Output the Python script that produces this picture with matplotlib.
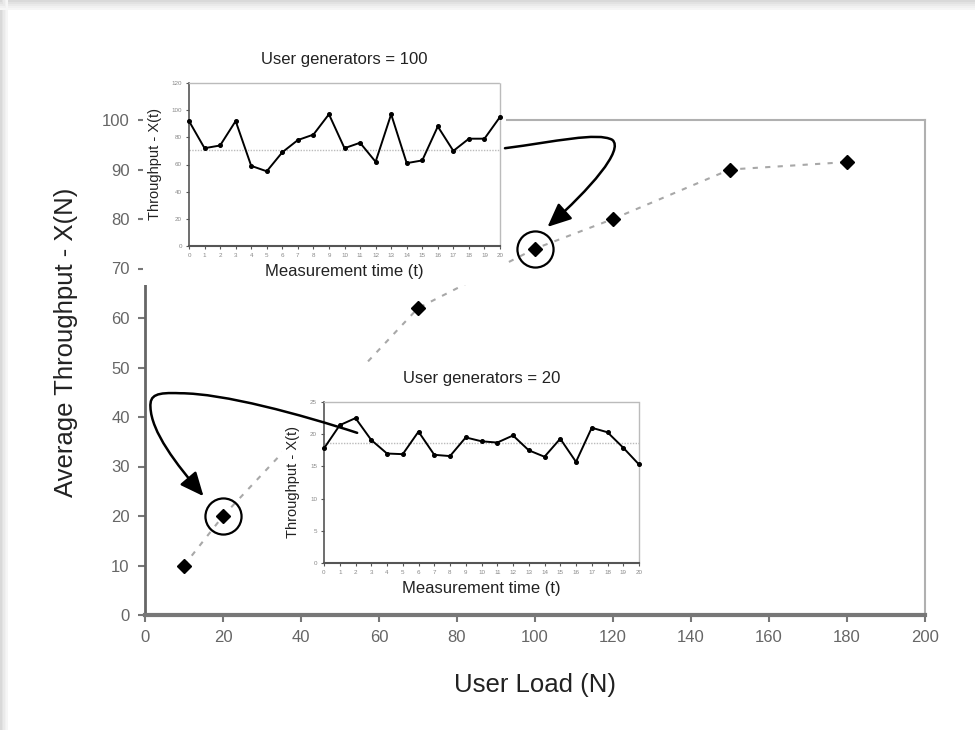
import matplotlib
matplotlib.use("Agg")
import matplotlib.pyplot as plt
from matplotlib.patches import Rectangle, FancyArrowPatch
from matplotlib.path import Path
import numpy as np

plt.rcParams['font.family'] = ['Liberation Sans', 'DejaVu Sans']

# ---- data ----
user_load = [10, 20, 70, 100, 120, 150, 180]
avg_throughput = [10, 20, 62, 74, 80, 90, 91.5]
highlight_loads = [20, 100]

meas_time = list(range(21))
thr_100 = [92, 72, 74, 92, 59, 55, 69, 78, 82, 97, 72, 76, 62, 97, 61, 63, 88, 70, 79, 79, 95]
ref_100 = 71
thr_20 = [17.8, 21.4, 22.5, 19.1, 17.0, 16.9, 20.4, 16.8, 16.6, 19.5, 18.9, 18.7, 19.8,
          17.5, 16.5, 19.3, 15.7, 21.0, 20.3, 17.9, 15.3]
ref_20 = 18.6

main_xticks = list(range(0, 201, 20))
main_yticks = list(range(0, 101, 10))
inset100_yticks = list(range(0, 121, 20))
inset20_yticks = list(range(0, 26, 5))

W, H = 975, 730
fig = plt.figure(figsize=(W / 100, H / 100), dpi=100)
fig.patch.set_facecolor('white')

def fx(px):
    return px / W

def fy(py):
    return 1 - py / H

# outer frame shading
for i, c in enumerate(['#d9d9d9', '#e2e2e2', '#eaeaea', '#f1f1f1', '#f6f6f6']):
    fig.add_artist(Rectangle((0, fy(2 * (i + 1))), 1, 2 / H, transform=fig.transFigure,
                             facecolor=c, edgecolor='none', zorder=-1))
    fig.add_artist(Rectangle((fx(1.5 * i), 0), 1.5 / W, 1, transform=fig.transFigure,
                             facecolor=c, edgecolor='none', zorder=-1))

# ---- main axes ----
ax = fig.add_axes([fx(145), fy(615), fx(925) - fx(145), fy(120) - fy(615)])
ax.set_zorder(0)
ax.plot(user_load, avg_throughput, linestyle=(0, (2.5, 3.5)), color='#a8a8a8', lw=1.5,
        marker='D', markersize=7, markerfacecolor='black', markeredgecolor='black')
hx = [n for n in user_load if n in highlight_loads]
hy = [v for n, v in zip(user_load, avg_throughput) if n in highlight_loads]
ax.plot(hx, hy, linestyle='none', marker='o', markersize=26, markerfacecolor='none',
        markeredgecolor='black', markeredgewidth=1.6)
ax.set_xlim(0, 200)
ax.set_ylim(0, 100)
ax.set_xticks(main_xticks)
ax.set_yticks(main_yticks)
ax.tick_params(axis='both', direction='out', length=5, width=1.5, color='#777777',
               labelcolor='#666666', labelsize=12, pad=6)
ax.spines['left'].set_color('#666666')
ax.spines['left'].set_linewidth(2)
ax.spines['bottom'].set_color('#777777')
ax.spines['bottom'].set_linewidth(3)
ax.spines['top'].set_color('#b0b0b0')
ax.spines['top'].set_linewidth(1.5)
ax.spines['right'].set_color('#b0b0b0')
ax.spines['right'].set_linewidth(1.5)
ax.set_xlabel('User Load (N)', fontsize=18.5, color='#222222', labelpad=20)
ax.set_ylabel('Average Throughput - X(N)', fontsize=18.5, color='#222222')
ax.yaxis.set_label_coords(-0.086, 0.55)

# white backgrounds for insets
fig.add_artist(Rectangle((fx(143), fy(285)), fx(506) - fx(143), fy(40) - fy(285),
                         transform=fig.transFigure, facecolor='white', edgecolor='none', zorder=0.5))
fig.add_artist(Rectangle((fx(282), fy(605)), fx(645) - fx(282), fy(362) - fy(605),
                         transform=fig.transFigure, facecolor='white', edgecolor='none', zorder=0.5))

def style_inset(a, yticks, ymax, title):
    a.set_xlim(0, 20)
    a.set_ylim(0, ymax)
    a.set_xticks(meas_time)
    a.set_yticks(yticks)
    a.tick_params(axis='both', direction='out', length=2, width=0.8, color='#555555',
                  labelcolor='#888888', labelsize=4.5, pad=3)
    a.spines['left'].set_color('#555555')
    a.spines['left'].set_linewidth(1.2)
    a.spines['bottom'].set_color('#555555')
    a.spines['bottom'].set_linewidth(1.5)
    for s in ('top', 'right'):
        a.spines[s].set_color('#bbbbbb')
        a.spines[s].set_linewidth(1.0)
        a.spines[s].set_linestyle((0, (1, 1)))
    a.set_title(title, fontsize=12, color='#222222', pad=14)
    a.set_xlabel('Measurement time (t)', fontsize=12, color='#222222', labelpad=4)
    a.set_ylabel('Throughput - X(t)', fontsize=10.5, color='#222222', labelpad=7)

# inset N = 100
a1 = fig.add_axes([fx(189), fy(246), fx(500) - fx(189), fy(83) - fy(246)])
a1.set_zorder(1)
a1.patch.set_alpha(0)
a1.axhline(ref_100, color='#bbbbbb', lw=1, linestyle=(0, (1, 1)))
a1.plot(meas_time, thr_100, color='black', lw=1.4, marker='o', markersize=2.6, clip_on=False, zorder=4)
style_inset(a1, inset100_yticks, 120, 'User generators = 100')

# inset N = 20
a2 = fig.add_axes([fx(324), fy(563), fx(639) - fx(324), fy(402) - fy(563)])
a2.set_zorder(1)
a2.patch.set_alpha(0)
a2.axhline(ref_20, color='#bbbbbb', lw=1, linestyle=(0, (1, 1)))
a2.plot(meas_time, thr_20, color='black', lw=1.4, marker='o', markersize=2.6, clip_on=False, zorder=4)
style_inset(a2, inset20_yticks, 25, 'User generators = 20')

# curved arrows (annotation), in main data coordinates
tip1 = (hx[1] + 3.2, hy[1] + 4.4)
p1 = Path([(92.3, 94.3), (105, 95.6), (116, 97.6), (119.8, 96.0),
           (123, 94.0), (114, 86.0), tip1],
          [Path.MOVETO, Path.CURVE4, Path.CURVE4, Path.CURVE4,
           Path.CURVE4, Path.CURVE4, Path.CURVE4])
tip2 = (hx[0] - 5.0, hy[0] + 4.0)
p2 = Path([(54.4, 36.8), (40, 40.5), (20, 44.8), (9, 44.8),
           (3, 45.0), (1.2, 44.5), (1.4, 42.0),
           (1.6, 37.0), (8, 30.5), tip2],
          [Path.MOVETO, Path.CURVE4, Path.CURVE4, Path.CURVE4,
           Path.CURVE4, Path.CURVE4, Path.CURVE4,
           Path.CURVE4, Path.CURVE4, Path.CURVE4])
for p in (p1, p2):
    arr = FancyArrowPatch(path=p, arrowstyle='-|>,head_length=0.9,head_width=0.4',
                          mutation_scale=16, lw=1.8, color='black',
                          transform=ax.transData, zorder=5)
    fig.add_artist(arr)

fig.savefig('out.png', dpi=100)
